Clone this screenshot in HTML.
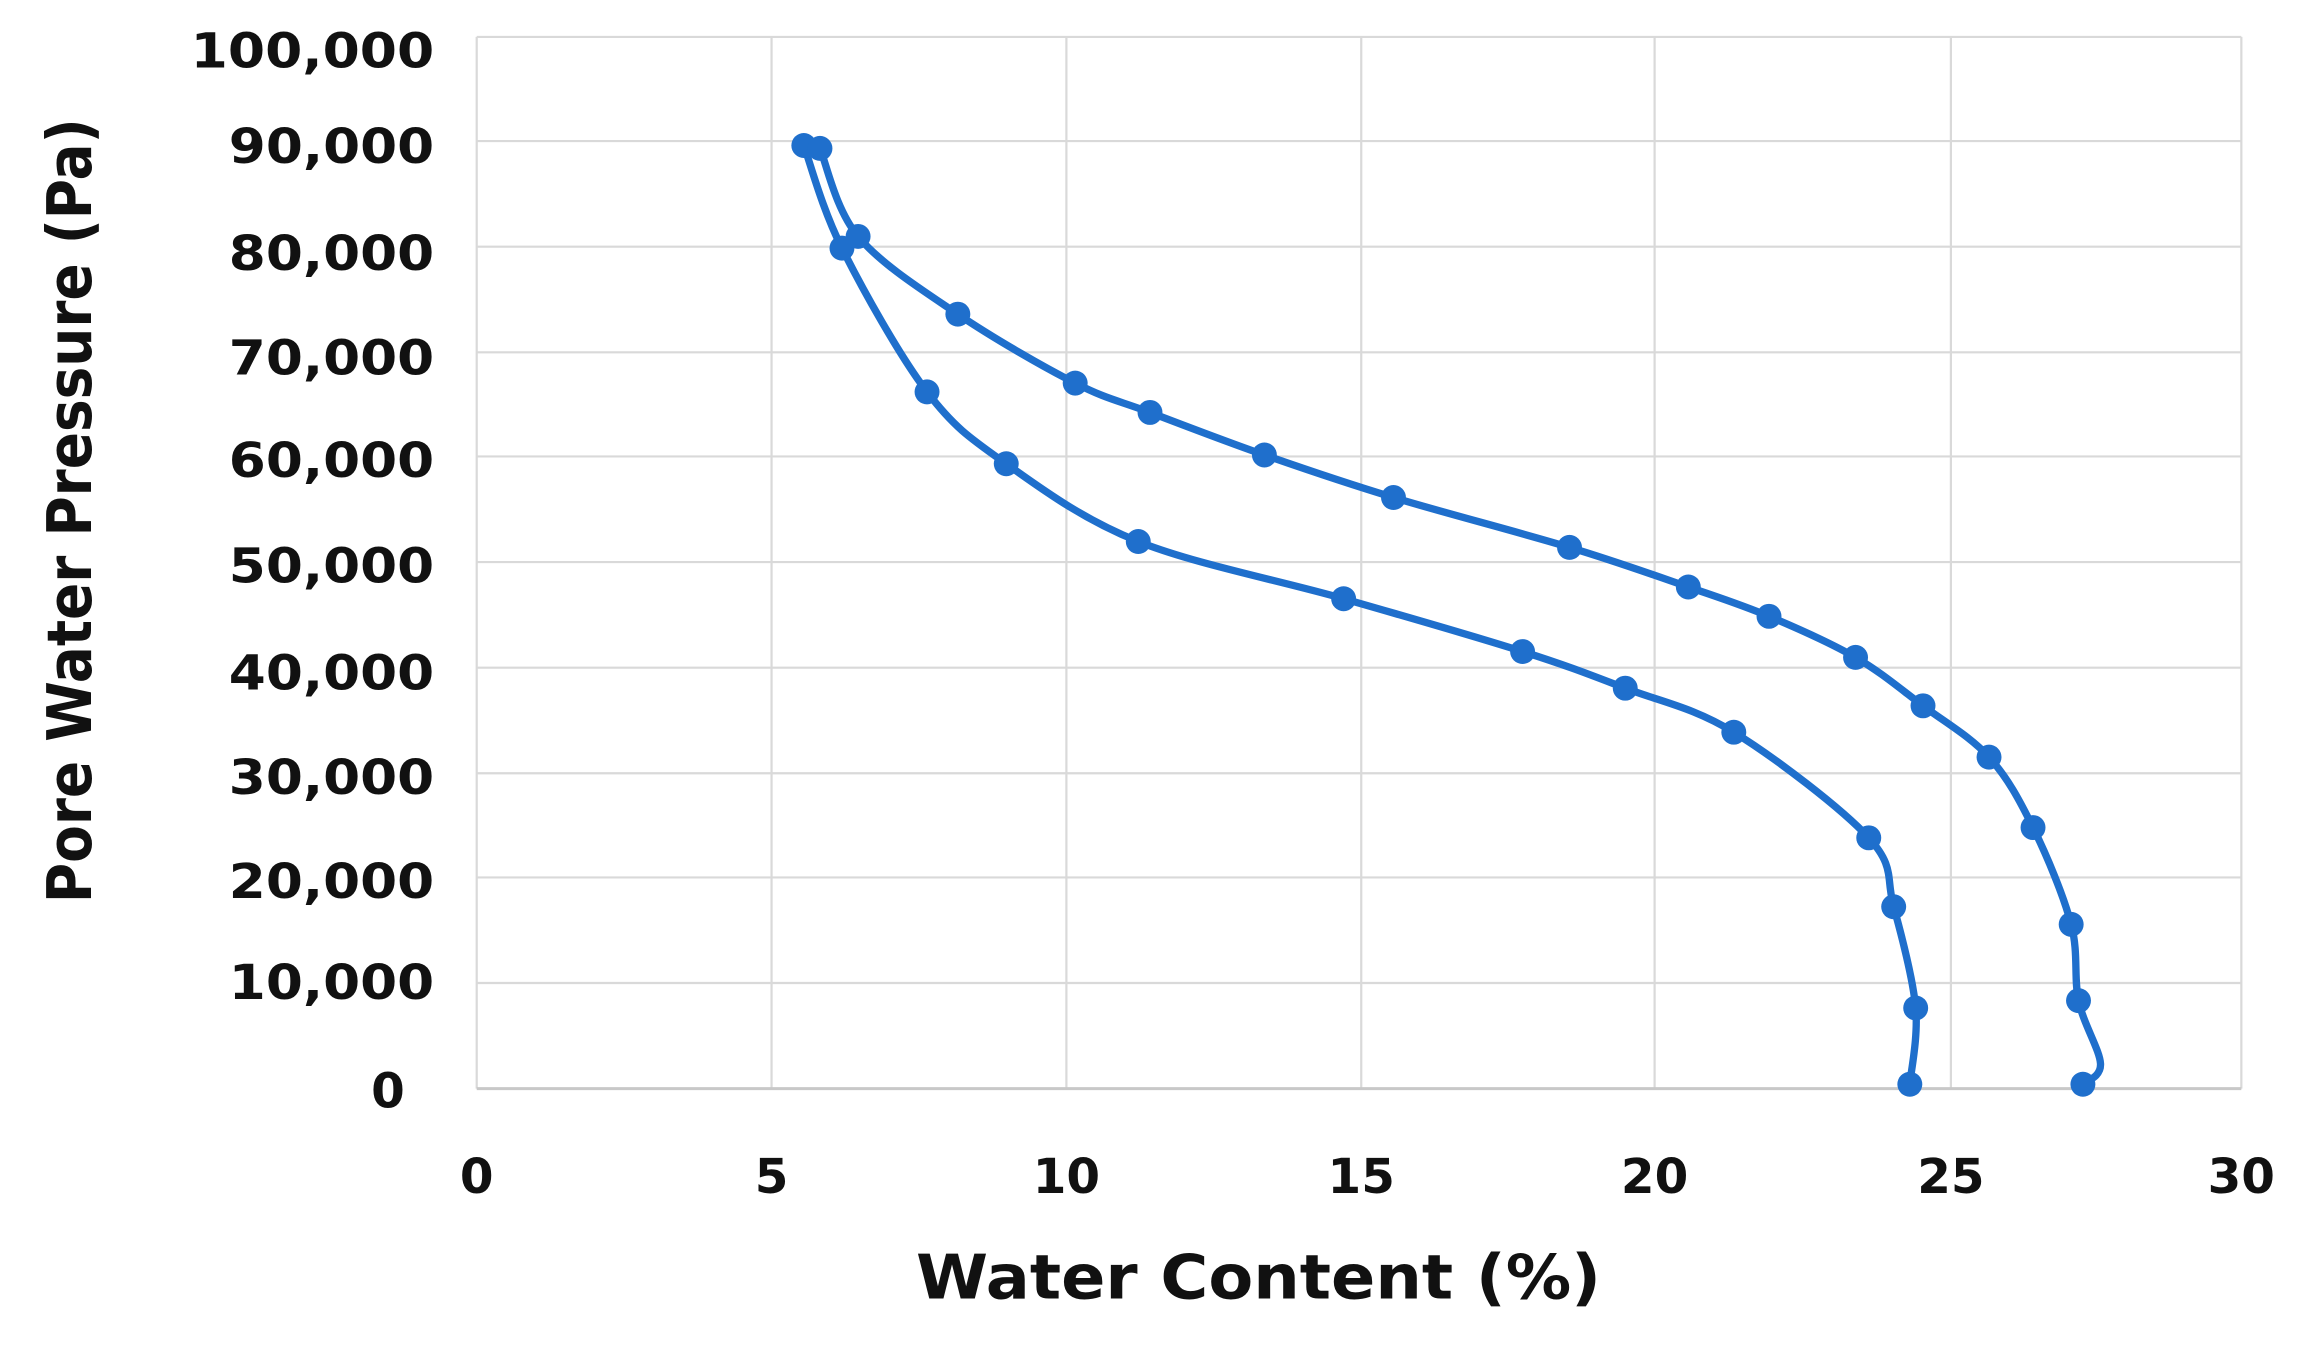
<!DOCTYPE html>
<html><head><meta charset="utf-8"><style>
html,body{margin:0;padding:0;background:#fff;}
svg{display:block;}
text{font-family:"DejaVu Sans","Liberation Sans",sans-serif;font-weight:bold;fill:#111;}
</style></head><body>
<svg width="2300" height="1350" viewBox="0 0 1568 920" xmlns="http://www.w3.org/2000/svg">
<rect width="1568" height="920" fill="#fff"/>
<g stroke="#d9d9d9" stroke-width="1.5">
<line x1="325" y1="25" x2="1528" y2="25"/>
<line x1="325" y1="96" x2="1528" y2="96"/>
<line x1="325" y1="168" x2="1528" y2="168"/>
<line x1="325" y1="240" x2="1528" y2="240"/>
<line x1="325" y1="311" x2="1528" y2="311"/>
<line x1="325" y1="383" x2="1528" y2="383"/>
<line x1="325" y1="455" x2="1528" y2="455"/>
<line x1="325" y1="527" x2="1528" y2="527"/>
<line x1="325" y1="598" x2="1528" y2="598"/>
<line x1="325" y1="670" x2="1528" y2="670"/>
<line x1="325" y1="25" x2="325" y2="742"/>
<line x1="526" y1="25" x2="526" y2="742"/>
<line x1="727" y1="25" x2="727" y2="742"/>
<line x1="928" y1="25" x2="928" y2="742"/>
<line x1="1128" y1="25" x2="1128" y2="742"/>
<line x1="1330" y1="25" x2="1330" y2="742"/>
<line x1="1528" y1="25" x2="1528" y2="742"/>
</g>
<line x1="325" y1="742" x2="1528" y2="742" stroke="#c8c8c8" stroke-width="2"/>
<g font-size="33" text-anchor="end">
<text x="296" y="46" textLength="166" lengthAdjust="spacingAndGlyphs">100,000</text>
<text x="296" y="111" textLength="140" lengthAdjust="spacingAndGlyphs">90,000</text>
<text x="296" y="184" textLength="140" lengthAdjust="spacingAndGlyphs">80,000</text>
<text x="296" y="255" textLength="140" lengthAdjust="spacingAndGlyphs">70,000</text>
<text x="296" y="325" textLength="140" lengthAdjust="spacingAndGlyphs">60,000</text>
<text x="296" y="397" textLength="140" lengthAdjust="spacingAndGlyphs">50,000</text>
<text x="296" y="470" textLength="140" lengthAdjust="spacingAndGlyphs">40,000</text>
<text x="296" y="541" textLength="140" lengthAdjust="spacingAndGlyphs">30,000</text>
<text x="296" y="612" textLength="140" lengthAdjust="spacingAndGlyphs">20,000</text>
<text x="296" y="681" textLength="140" lengthAdjust="spacingAndGlyphs">10,000</text>
<text x="276" y="755">0</text>
</g>
<g font-size="33" text-anchor="middle">
<text x="325" y="813">0</text>
<text x="526" y="813">5</text>
<text x="727" y="813">10</text>
<text x="928" y="813">15</text>
<text x="1128" y="813">20</text>
<text x="1330" y="813">25</text>
<text x="1528" y="813">30</text>
</g>
<text x="858" y="885" font-size="42" text-anchor="middle" textLength="467" lengthAdjust="spacingAndGlyphs">Water Content (%)</text>
<text transform="translate(62,348) rotate(-90)" font-size="42" text-anchor="middle" textLength="535" lengthAdjust="spacingAndGlyphs">Pore Water Pressure (Pa)</text>
<g fill="none" stroke="#1f6fcc" stroke-width="5" stroke-linejoin="round">
<path id="p1" d=""/>
<path id="p2" d=""/>
</g>
<g id="m" fill="#1f6fcc"></g>
</svg>
<script>
var A=[[548,99],[574,169],[632,267],[686,316],[776,369],[916,408],[1038,444],[1108,469],[1182,499],[1274,571],[1291,618],[1306,687],[1302,739]];
var B=[[559,101],[585,161],[653,214],[733,261],[784,281],[862,310],[950,339],[1070,373],[1151,400],[1206,420],[1265,448],[1311,481],[1356,516],[1386,564],[1412,630],[1417,682],[1432,725],[1420,739]];
function cr(p){var d="M"+p[0][0]+","+p[0][1];for(var i=0;i<p.length-1;i++){var p0=p[i-1]||p[i],p1=p[i],p2=p[i+1],p3=p[i+2]||p2;var t=0.5/3;
d+=" C"+(p1[0]+(p2[0]-p0[0])*t)+","+(p1[1]+(p2[1]-p0[1])*t)+" "+(p2[0]-(p3[0]-p1[0])*t)+","+(p2[1]-(p3[1]-p1[1])*t)+" "+p2[0]+","+p2[1];}return d;}
document.getElementById("p1").setAttribute("d",cr(A));
document.getElementById("p2").setAttribute("d",cr(B));
var g=document.getElementById("m"),s="";
A.concat(B.filter(function(q){return q[0]!==1432;})).forEach(function(q){s+='<circle cx="'+q[0]+'" cy="'+q[1]+'" r="8.5"/>';});
g.innerHTML=s;
</script>
</body></html>
